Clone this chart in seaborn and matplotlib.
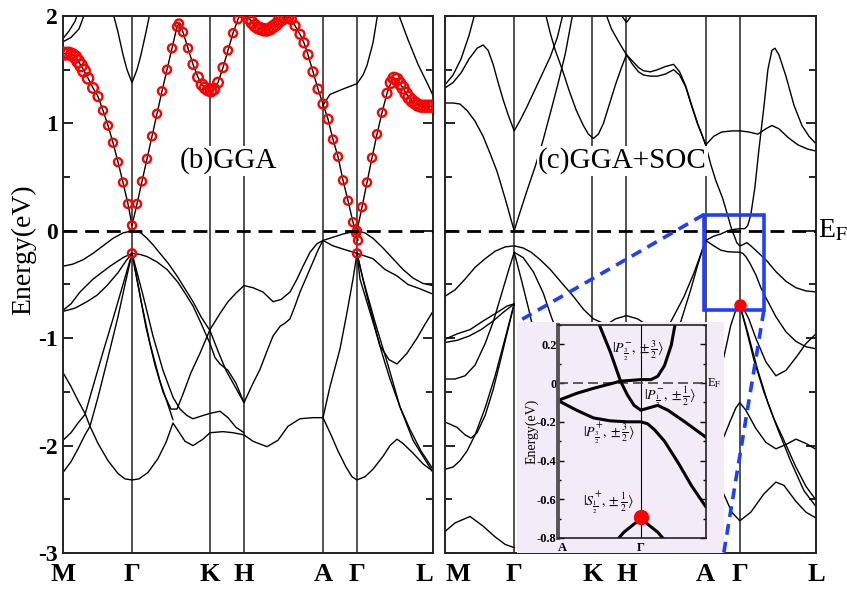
import numpy as np
import pandas as pd
import matplotlib
matplotlib.use("Agg")
import matplotlib.pyplot as plt
import seaborn as sns
from matplotlib.patches import Rectangle

# ---------------- data ----------------
KPATH_LABELS = ["M", "Γ", "K", "H", "A", "Γ", "L"]
KPATH_POS = [0, 69, 147, 181, 260, 294, 370]
ENERGY_TICKS = [-3, -2, -1, 0, 1, 2]

GGA_RED_1 = [(0, 1.65, 2), (3, 1.65, 2), (6, 1.65, 2), (9, 1.64, 2), (12, 1.62, 2),
             (15, 1.58, 2), (18, 1.54, 2), (21, 1.49, 2), (25, 1.42, 1.6), (30, 1.33, 1.4),
             (35, 1.25, 1.2), (40, 1.12, 1), (45, 0.98, 1), (50, 0.82, 1), (55, 0.64, 1),
             (60, 0.45, 1), (65, 0.25, 1), (69, 0.05, 1), (74, 0.25, 1), (79, 0.46, 1),
             (84, 0.67, 1), (89, 0.88, 1), (94, 1.09, 1), (99, 1.30, 1), (104, 1.50, 1),
             (109, 1.70, 1), (114, 1.90, 1), (116, 1.93, 1), (120, 1.85, 1), (125, 1.70, 1),
             (130, 1.55, 1.2), (135, 1.43, 1.4), (139, 1.36, 1.6), (142, 1.33, 1.6),
             (145, 1.31, 1.6), (148, 1.30, 1.6), (151, 1.32, 1.6), (155, 1.38, 1.4),
             (160, 1.52, 1.2), (165, 1.68, 1), (170, 1.84, 1), (175, 1.97, 1), (178, 2.03, 1)]
GGA_RED_2 = [(183, 2.03, 1.8), (186, 1.98, 1.8), (189, 1.94, 1.8), (192, 1.91, 1.8),
             (195, 1.89, 1.8), (198, 1.88, 1.8), (201, 1.87, 1.8), (204, 1.87, 1.8),
             (207, 1.88, 1.8), (210, 1.90, 1.8), (213, 1.92, 1.8), (216, 1.95, 1.8),
             (219, 1.97, 1.8), (222, 1.99, 1.8), (225, 1.99, 1.6), (228, 1.97, 1.4),
             (232, 1.91, 1.2), (237, 1.83, 1.2), (241, 1.75, 1.2), (245, 1.64, 1.2),
             (250, 1.48, 1.2), (255, 1.32, 1.2), (260, 1.18, 1.2), (265, 1.04, 1.2),
             (270, 0.85, 1), (275, 0.69, 1), (280, 0.47, 1), (285, 0.28, 1), (290, 0.08, 1),
             (293, -0.02, 1), (295, -0.09, 1)]
GGA_RED_3 = [(294, 0.0, 1), (299, 0.22, 1), (304, 0.45, 1), (309, 0.68, 1), (314, 0.90, 1),
             (319, 1.10, 1), (324, 1.28, 1.2), (328, 1.38, 1.6), (331, 1.42, 1.8),
             (334, 1.41, 1.8), (337, 1.37, 1.8), (340, 1.33, 1.8), (343, 1.28, 1.8),
             (346, 1.24, 1.8), (349, 1.21, 1.8), (352, 1.19, 1.8), (355, 1.17, 1.8),
             (358, 1.16, 1.8), (361, 1.16, 1.8), (364, 1.16, 1.8), (367, 1.16, 1.8),
             (370, 1.16, 1.8)]
GGA_RED_GAMMA = [(69, -0.21, 1), (294, -0.21, 1)]

# (b) GGA : black bands
GGA_BANDS = {
    "c1": [(0, 1.76), (8, 1.80), (16, 1.88), (22, 2.03)],
    "c2": [(0, 1.79), (6, 1.86), (12, 1.95), (15, 2.03)],
    "c3": [(50, 2.03), (55, 1.85), (60, 1.64), (64, 1.50), (69, 1.38), (74, 1.50),
           (78, 1.64), (83, 1.85), (87, 2.03)],
    "c4": [(260, 1.17), (267, 1.27), (280, 1.32), (294, 1.37), (300, 1.45), (304, 1.54),
           (310, 1.75), (314, 1.98), (315, 2.03)],
    "c5": [(335, 2.03), (345, 1.78), (355, 1.55), (365, 1.36), (370, 1.26)],
    "v1": [(0, -0.33), (10, -0.31), (20, -0.27), (30, -0.21), (40, -0.14), (50, -0.07),
           (60, -0.02), (69, 0.0), (78, -0.02), (84, -0.07), (90, -0.13), (97, -0.21),
           (105, -0.30), (114, -0.42), (122, -0.54), (130, -0.66), (138, -0.80), (147, -0.93),
           (155, -1.12), (163, -1.30), (172, -1.45), (181, -1.60), (190, -1.42), (197, -1.29),
           (204, -1.12), (210, -0.98), (217, -0.89), (222, -0.86), (227, -0.82), (232, -0.70),
           (237, -0.57), (244, -0.42), (250, -0.29), (255, -0.18), (260, -0.09), (270, -0.06),
           (280, -0.03), (294, 0.0), (302, -0.02), (310, -0.07), (320, -0.16), (330, -0.26),
           (340, -0.36), (350, -0.44), (360, -0.49), (370, -0.51)],
    "v2": [(69, -0.21), (77, -0.22), (84, -0.24), (94, -0.29), (104, -0.36), (115, -0.48),
           (122, -0.58), (130, -0.70), (138, -0.86), (147, -1.05), (152, -1.18), (157, -1.24),
           (165, -1.30), (173, -1.42), (181, -1.60)],
    "v3": [(0, -0.74), (8, -0.68), (17, -0.57), (30, -0.45), (47, -0.33), (60, -0.25), (69, -0.21)],
    "v4": [(0, -0.75), (12, -0.72), (24, -0.66), (34, -0.60), (44, -0.51), (55, -0.39),
           (63, -0.28), (69, -0.21)],
    "v5": [(0, -1.32), (8, -1.45), (15, -1.58), (22, -1.70), (27, -1.82), (35, -1.98),
           (45, -2.14), (55, -2.26), (62, -2.31), (69, -2.32), (76, -2.31), (85, -2.25),
           (95, -2.12), (103, -1.97), (110, -1.79), (115, -1.86), (122, -1.96), (130, -2.00),
           (140, -1.94), (147, -1.88), (160, -1.87), (170, -1.88), (181, -1.90), (190, -1.96),
           (204, -2.01), (215, -1.95), (225, -1.82), (237, -1.75), (250, -1.74), (260, -1.74),
           (268, -1.90), (275, -2.05), (283, -2.20), (289, -2.29), (294, -2.32), (302, -2.29),
           (310, -2.22), (320, -2.10), (327, -2.00), (334, -1.94), (340, -1.98), (350, -2.07),
           (360, -2.17), (370, -2.24)],
    "v6": [(0, -1.95), (8, -1.88), (15, -1.79), (22, -1.71), (30, -1.45), (40, -1.13),
           (50, -0.82), (60, -0.50), (69, -0.21)],
    "v7": [(0, -2.25), (8, -2.15), (15, -2.03), (22, -1.90), (27, -1.82), (35, -1.55),
           (45, -1.18), (55, -0.80), (62, -0.50), (69, -0.21)],
    "v8": [(69, -0.21), (78, -0.65), (87, -1.05), (97, -1.40), (105, -1.62), (110, -1.76)],
    "v9": [(69, -0.21), (80, -0.60), (90, -0.98), (100, -1.30), (110, -1.55), (117, -1.66),
           (124, -1.72), (130, -1.75), (140, -1.72), (147, -1.70), (157, -1.68), (165, -1.74),
           (173, -1.83), (181, -1.88)],
    "v10": [(69, -0.21), (75, -0.50), (83, -0.90), (92, -1.25), (100, -1.50), (108, -1.66),
            (114, -1.66), (120, -1.52), (128, -1.32), (137, -1.14), (147, -0.92), (157, -0.77),
            (165, -0.66), (173, -0.58), (181, -0.51), (190, -0.53), (200, -0.57), (210, -0.66),
            (218, -0.64), (227, -0.57), (234, -0.45), (240, -0.33), (247, -0.20), (254, -0.12),
            (260, -0.09), (270, -0.14), (280, -0.17), (294, -0.21)],
    "v11": [(260, -1.74), (267, -1.45), (277, -1.10), (284, -0.76), (290, -0.45), (294, -0.21)],
    "v12": [(294, -0.21), (304, -0.61), (317, -1.07), (326, -1.20), (334, -1.24), (344, -1.14),
            (354, -1.00), (362, -0.87), (370, -0.75)],
    "v13": [(294, -0.21), (297, -0.45), (310, -0.85), (320, -1.17), (327, -1.38), (337, -1.64),
            (347, -1.85), (358, -2.05), (370, -2.22)],
    "v14": [(294, -0.21), (300, -0.45), (312, -0.85), (325, -1.25), (337, -1.64), (350, -1.95),
            (360, -2.10), (370, -2.25)],
    "v15": [(294, -0.21), (310, -0.26), (322, -0.36), (334, -0.42), (345, -0.50), (357, -0.54),
            (370, -0.59)],
}

# (c) GGA+SOC : black bands
SOC_BANDS = {
    "c1": [(0, 1.19), (8, 1.19), (15, 1.18), (22, 1.12), (30, 1.02), (38, 0.88), (45, 0.72),
           (52, 0.55), (60, 0.30), (66, 0.10), (69, 0.0), (74, 0.15), (82, 0.38), (90, 0.60),
           (98, 0.85), (106, 1.13), (113, 1.38), (120, 1.65), (128, 2.05)],
    "c2": [(0, 1.33), (8, 1.38), (16, 1.47), (24, 1.60), (32, 1.70), (38, 1.73), (43, 1.68),
           (48, 1.55), (53, 1.38), (58, 1.22), (63, 1.08), (69, 0.93), (75, 1.03), (82, 1.16),
           (90, 1.32), (98, 1.48), (105, 1.62), (112, 1.80), (118, 2.03)],
    "c3": [(0, 1.36), (8, 1.45), (16, 1.60), (24, 1.82), (30, 2.03)],
    "c4": [(100, 2.03), (105, 1.84), (110, 1.68), (117, 1.50), (124, 1.30), (131, 1.12),
           (138, 0.98), (143, 0.90), (148, 0.86), (153, 0.90), (158, 1.00), (164, 1.18),
           (170, 1.36), (176, 1.52), (181, 1.64), (187, 1.58), (193, 1.52), (198, 1.49),
           (205, 1.48), (212, 1.50), (220, 1.53), (228, 1.55), (234, 1.48), (240, 1.35),
           (246, 1.17), (252, 1.00), (256, 0.90), (260, 0.80)],
    "c5": [(160, 2.03), (166, 1.88), (172, 1.78), (177, 1.70), (181, 1.64), (187, 1.55),
           (193, 1.48), (198, 1.45), (205, 1.44), (212, 1.44), (220, 1.46), (228, 1.50),
           (234, 1.45), (240, 1.34), (246, 1.16), (252, 0.99), (256, 0.90), (260, 0.80)],
    "c6": [(174, 2.03), (181, 1.94), (188, 2.03)],
    "c7": [(260, 0.80), (268, 0.88), (276, 0.92), (286, 0.93), (295, 0.93), (303, 0.92),
           (312, 0.90), (320, 0.95), (326, 0.98), (333, 0.95), (342, 0.87), (352, 0.80),
           (362, 0.76), (371, 0.74)],
    "a1": [(260, 0.80), (265, 0.62), (270, 0.47), (277, 0.30), (282, 0.14), (286, 0.01),
           (289, -0.06), (291, -0.11), (294, -0.14), (297, -0.13), (301, -0.11), (305, -0.14),
           (312, -0.20), (321, -0.28), (330, -0.38), (340, -0.47), (350, -0.53), (360, -0.56),
           (371, -0.57)],
    "a2": [(260, -0.09), (268, -0.05), (275, -0.03), (282, 0.0), (286, 0.01), (294, 0.02),
           (299, 0.02), (302, 0.05), (305, 0.15), (309, 0.40), (313, 0.75), (318, 1.15),
           (322, 1.50), (326, 1.68), (329, 1.70), (333, 1.64), (340, 1.44), (348, 1.17),
           (356, 0.98), (363, 0.88), (371, 0.80)],
    "a3": [(260, -0.09), (268, -0.14), (275, -0.18), (282, -0.195), (294, -0.20), (297, -0.21),
           (300, -0.24), (304, -0.30), (310, -0.41), (315, -0.53), (321, -0.64), (330, -0.80),
           (340, -0.94), (350, -1.03), (360, -1.08), (371, -1.10)],
    "a4": [(278, -1.18), (285, -0.88), (290, -0.74), (294, -0.69), (298, -0.73), (303, -0.82),
           (310, -1.0), (320, -1.22), (330, -1.35), (340, -1.30), (350, -1.18), (360, -1.05),
           (371, -0.95)],
    "a5": [(235, -0.85), (245, -0.55), (252, -0.32), (257, -0.17), (260, -0.09)],
    "a5b": [(225, -0.85), (238, -0.62), (248, -0.40), (255, -0.22), (260, -0.09)],
    "a6": [(294, -0.69), (300, -0.90), (308, -1.20), (318, -1.50), (328, -1.75), (338, -1.95),
           (350, -2.20), (360, -2.38), (371, -2.52)],
    "a7": [(294, -0.69), (302, -0.95), (312, -1.30), (322, -1.60), (332, -1.85), (345, -2.15),
           (358, -2.42), (371, -2.58)],
    "a8": [(278, -2.45), (286, -2.62), (294, -2.70), (305, -2.62), (318, -2.45), (330, -2.34),
           (338, -2.37), (350, -2.52), (360, -2.62), (371, -2.68)],
    "a9": [(278, -1.92), (285, -1.76), (290, -1.65), (294, -1.60), (300, -1.67), (310, -1.84),
           (320, -1.97), (330, -2.03), (340, -1.99), (350, -1.94), (360, -1.98), (371, -2.04)],
    "hb": [(160, -0.88), (170, -0.82), (181, -0.79), (192, -0.82), (202, -0.88)],
    "v1": [(0, -0.61), (10, -0.55), (20, -0.45), (30, -0.34), (40, -0.26), (50, -0.19),
           (60, -0.15), (69, -0.14), (78, -0.16), (86, -0.20), (95, -0.27), (105, -0.36),
           (115, -0.47), (128, -0.61), (138, -0.73), (148, -0.82), (160, -0.87)],
    "v2": [(0, -1.01), (12, -0.96), (25, -0.92), (38, -0.84), (52, -0.76), (62, -0.70), (69, -0.68)],
    "v2b": [(0, -1.04), (12, -1.02), (24, -0.98), (36, -0.92), (48, -0.84), (58, -0.76),
            (69, -0.68)],
    "v3": [(69, -0.20), (63, -0.38), (56, -0.60), (48, -0.85), (40, -1.05), (30, -1.25),
           (20, -1.35), (10, -1.38), (0, -1.38)],
    "v4": [(69, -0.20), (76, -0.45), (84, -0.75), (90, -1.0)],
    "v6": [(69, -0.20), (78, -0.25), (88, -0.38), (98, -0.58), (106, -0.80), (110, -0.90)],
    "s1": [(69, -0.68), (62, -0.95), (55, -1.22), (48, -1.48), (40, -1.72), (32, -1.88),
           (26, -1.93), (20, -1.90), (12, -1.83), (0, -1.78)],
    "s2": [(69, -0.68), (60, -1.00), (50, -1.35), (40, -1.65), (30, -1.90), (22, -2.05),
           (15, -2.14), (8, -2.20), (0, -2.22)],
    "v5": [(0, -2.80), (10, -2.72), (25, -2.66), (38, -2.75), (50, -2.85), (60, -2.92), (69, -2.95)],
}

# inset (zoom of the blue box, GGA+SOC)
INSET_BANDS = {
    "i1": [(276.8, 0.31), (281.7, 0.16), (285.9, 0.01), (288.7, -0.06), (291.5, -0.115),
           (294.3, -0.14), (297.1, -0.13), (301.3, -0.115), (305.5, -0.14), (312.5, -0.20),
           (321.3, -0.28)],
    "i2": [(260, -0.09), (267.7, -0.053), (274.7, -0.027), (281.7, -0.004), (285.9, 0.01),
           (294.3, 0.018), (298.5, 0.018), (301.3, 0.035), (304.1, 0.09), (306.9, 0.195),
           (308.6, 0.31)],
    "i3": [(260, -0.09), (267.7, -0.14), (274.7, -0.18), (281.7, -0.195), (288.7, -0.20),
           (294.3, -0.20), (297.1, -0.21), (299.9, -0.24), (304.1, -0.30), (309.7, -0.41),
           (315.3, -0.53), (321.3, -0.64)],
    "i4": [(283.1, -0.83), (287.3, -0.77), (290.8, -0.735), (294.3, -0.70), (297.8, -0.735),
           (301.3, -0.77), (305.5, -0.83)],
}
INSET_KLABELS = ["A", "Γ"]
INSET_KPOS = [260, 294.3]
INSET_TICKS = [-0.8, -0.6, -0.4, -0.2, 0, 0.2]
INSET_TICKLABELS = ["-0.8", "-0.6", "-0.4", "-0.2", "0", "0.2"]
INSET_STATES = [(293.0, 0.168, r"$|P^{-}_{\frac{3}{2}},\pm\frac{3}{2}\rangle$"),
                (306.5, -0.07, r"$|P^{-}_{\frac{1}{2}},\pm\frac{1}{2}\rangle$"),
                (281.3, -0.257, r"$|P^{+}_{\frac{3}{2}},\pm\frac{3}{2}\rangle$"),
                (281.0, -0.62, r"$|S^{+}_{\frac{1}{2}},\pm\frac{1}{2}\rangle$")]
HIGHLIGHT = (294.3, -0.69)


def to_frame(bands):
    rows = []
    for name, pts in bands.items():
        for i, (k, e) in enumerate(pts):
            rows.append({"band": name, "order": i, "k": k, "E": e})
    return pd.DataFrame(rows)


def red_frame(*lists):
    rows = [{"k": k, "E": e, "w": w} for lst in lists for (k, e, w) in lst]
    return pd.DataFrame(rows)


# ---------------- style ----------------
sns.set_theme(style="ticks")
plt.rcParams["font.family"] = ["Liberation Serif", "DejaVu Serif"]
plt.rcParams["mathtext.fontset"] = "stix"
plt.rcParams["axes.linewidth"] = 1.4
plt.rcParams["axes.edgecolor"] = "#222222"
plt.rcParams["text.color"] = "black"
plt.rcParams["axes.labelcolor"] = "black"
plt.rcParams["xtick.color"] = "black"
plt.rcParams["ytick.color"] = "black"

W, H = 847, 589
fig = plt.figure(figsize=(W / 100, H / 100), dpi=100)


def fx(px):
    return px / W


def fy(py):
    return 1 - py / H


top, bot = 16, 553
axL = fig.add_axes([fx(63), fy(bot), fx(433 - 63), (bot - top) / H])
axR = fig.add_axes([fx(445), fy(bot), fx(816 - 445), (bot - top) / H])

LAV = "#f3ebf8"
BLUE = "#1f3fff"


def style_main(ax, show_labels):
    ax.set_xlim(KPATH_POS[0], KPATH_POS[-1])
    ax.set_ylim(-3, 2)
    for kp in KPATH_POS[1:-1]:
        ax.axvline(kp, color="#222222", lw=1.1, zorder=1)
    ax.axhline(0, color="black", lw=2.0, ls=(0, (5, 2.8)), zorder=4)
    ax.set_xticks(KPATH_POS)
    ax.set_xticklabels(KPATH_LABELS, fontsize=19, fontweight="bold")
    ax.tick_params(axis="x", length=0, pad=7)
    ax.set_yticks(ENERGY_TICKS)
    ax.set_yticks(np.arange(-3, 2.01, 0.5), minor=True)
    ax.tick_params(axis="y", which="both", direction="in", left=True, right=True,
                   length=7, width=1.2, labelsize=17)
    ax.tick_params(axis="y", which="minor", length=5)
    if show_labels:
        ax.set_yticklabels([str(t) for t in ENERGY_TICKS], fontweight="bold")
    else:
        ax.set_yticklabels([])
    ax.set_xlabel("")
    ax.set_ylabel("")


# ---- left panel (GGA)
dfL = to_frame(GGA_BANDS)
sns.lineplot(data=dfL, x="k", y="E", units="band", estimator=None, sort=False,
             color="black", lw=1.0, ax=axL, legend=False, zorder=2)
for i, red in enumerate([GGA_RED_1, GGA_RED_2, GGA_RED_3]):
    dfr = red_frame(red)
    dfr["band"] = f"r{i}"
    sns.lineplot(data=dfr, x="k", y="E", units="band", estimator=None, sort=False,
                 color="black", lw=1.0, ax=axL, legend=False, zorder=2)
dfred = red_frame(GGA_RED_1, GGA_RED_2, GGA_RED_3, GGA_RED_GAMMA)
sns.scatterplot(data=dfred, x="k", y="E", size="w", sizes=(34, 70), ax=axL, marker="o",
                color="red", facecolor="none", edgecolor="red", linewidth=1.7, zorder=3,
                legend=False)
style_main(axL, True)
xl = axL.get_xticklabels()
xl[-1].set_horizontalalignment("right")
xl[-1].set_x(KPATH_POS[-1] + 2)
axL.text(165, 0.65, "(b)GGA", fontsize=21, ha="center", va="center", zorder=6,
         color="black", bbox=dict(facecolor="white", edgecolor="none", pad=1))

# ---- right panel (GGA+SOC)
dfR = to_frame(SOC_BANDS)
sns.lineplot(data=dfR, x="k", y="E", units="band", estimator=None, sort=False,
             color="black", lw=1.0, ax=axR, legend=False, zorder=2)
style_main(axR, False)
xr = axR.get_xticklabels()
xr[0].set_horizontalalignment("left")
axR.text(177, 0.65, "(c)GGA+SOC", fontsize=21, ha="center", va="center", zorder=6,
         color="black", bbox=dict(facecolor="white", edgecolor="none", pad=1))
axR.text(1.005, 0.0, r"E$_{\rm F}$", transform=axR.get_yaxis_transform(), fontsize=20,
         ha="left", va="center", clip_on=False)

# lavender background of the inset + blue box + red dot
axR.add_patch(Rectangle((72, -3.0), 206, 2.15, facecolor=LAV, edgecolor="none", zorder=10))
axR.add_patch(Rectangle((258, -0.74), 60, 0.89, facecolor="none", edgecolor=BLUE,
                        lw=2.6, zorder=11))
axR.plot([HIGHLIGHT[0]], [HIGHLIGHT[1]], "o", color="red", ms=8, zorder=12)
blue_kw = dict(color=BLUE, lw=2.6, ls=(0, (3, 2)), zorder=11, clip_on=False)
axR.plot([258, 72], [0.15, -0.85], **blue_kw)
axR.plot([318, 278], [-0.74, -3.0], **blue_kw)

# y label
fig.text(fx(24), fy(250), "Energy(eV)", rotation=90, fontsize=20, ha="center", va="center")

# ---- inset
axI = fig.add_axes([fx(558), fy(538), fx(706 - 558), (538 - 325) / H])
axI.set_facecolor(LAV)
dfI = to_frame(INSET_BANDS)
sns.lineplot(data=dfI, x="k", y="E", units="band", estimator=None, sort=False,
             color="black", lw=2.2, ax=axI, legend=False, zorder=2)
axI.set_xlim(260, 321.3)
axI.set_ylim(-0.8, 0.3)
axI.axvline(INSET_KPOS[1], color="black", lw=0.8, zorder=1)
axI.axhline(0, color="#444444", lw=1.2, ls=(0, (6, 3)), zorder=1)
axI.plot([HIGHLIGHT[0]], [HIGHLIGHT[1]], "o", color="red", ms=10, zorder=5, clip_on=False)
axI.set_xticks(INSET_KPOS)
axI.set_xticklabels(INSET_KLABELS, fontsize=9, fontweight="bold")
axI.tick_params(axis="x", length=0, pad=3)
axI.set_yticks(INSET_TICKS)
axI.set_yticklabels(INSET_TICKLABELS, fontsize=9, fontweight="bold")
axI.set_yticks(np.arange(-0.8, 0.31, 0.1), minor=True)
axI.tick_params(axis="y", which="both", direction="in", left=True, right=True, length=4,
                width=1.0, pad=1)
axI.tick_params(axis="y", which="minor", length=2.5)
axI.spines["left"].set_linewidth(2.8)
axI.spines["left"].set_color("#555555")
for s in ["top", "right", "bottom"]:
    axI.spines[s].set_linewidth(1.2)
axI.set_xlabel("")
axI.set_ylabel("Energy(eV)", fontsize=10, labelpad=-1)
for kx, ey, txt in INSET_STATES:
    axI.text(kx, ey, txt, fontsize=10, ha="center", va="center", zorder=4)
axI.text(1.01, 0.0, r"E$_{\rm F}$", transform=axI.get_yaxis_transform(), fontsize=9,
         ha="left", va="center", clip_on=False)
xi = axI.get_xticklabels()
xi[0].set_horizontalalignment("left")

fig.savefig("out.png", dpi=100)
